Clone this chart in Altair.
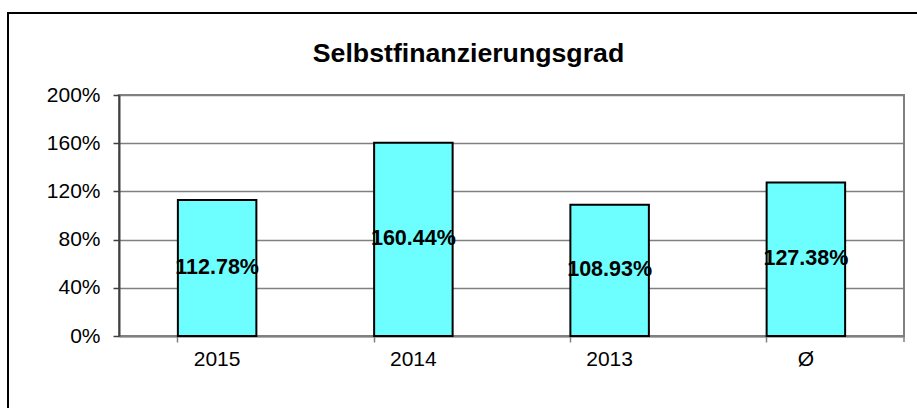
import altair as alt
import pandas as pd

title_text = "Selbstfinanzierungsgrad"
categories = ["2015", "2014", "2013", "Ø"]
values = [112.78, 160.44, 108.93, 127.38]
y_ticks = [0, 40, 80, 120, 160, 200]

df = pd.DataFrame({
    "cat": categories,
    "val": values,
    "label": [f"{v:.2f}%" for v in values],
})

FONT = "Liberation Sans"
W, H = 785, 241

x_enc = alt.X(
    "cat:N",
    sort=categories,
    title=None,
    scale=alt.Scale(paddingInner=0.6, paddingOuter=0.3),
    axis=alt.Axis(
        labelAngle=0, labelFontSize=21, labelFont=FONT, labelColor="black",
        labelPadding=6, bandPosition=0, tickSize=6, tickColor="#808080",
        tickWidth=1.5, domainColor="#808080", domainWidth=2, grid=False,
    ),
)
y_enc = alt.Y(
    "val:Q",
    title=None,
    scale=alt.Scale(domain=[0, 200], nice=False),
    axis=alt.Axis(
        values=y_ticks, labelExpr="datum.value + '%'", labelFontSize=21,
        labelFont=FONT, labelColor="black", labelPadding=13, tickSize=6,
        tickColor="#404040", tickWidth=1.5, domainColor="#404040", domainWidth=2,
        grid=True, gridColor="#808080", gridWidth=1.3,
    ),
)

bars = alt.Chart(df).mark_bar(
    fill="#6DFFFF", stroke="black", strokeWidth=2
).encode(x=x_enc, y=y_enc)

labels = alt.Chart(df).transform_calculate(
    mid="datum.val / 2"
).mark_text(
    font=FONT, fontSize=21.5, fontWeight="bold", color="black", baseline="middle"
).encode(
    x=alt.X("cat:N", sort=categories),
    y=alt.Y("mid:Q"),
    text="label:N",
)

right_tick = alt.Chart(df.head(1)).mark_rule(color="#808080", strokeWidth=1.5).encode(
    x=alt.value(W), y=alt.value(H), y2=alt.value(H + 6)
)

frame = alt.Chart(df.head(1)).mark_rect(
    fill=None, stroke="black", strokeWidth=2
).encode(
    x=alt.value(-111), x2=alt.value(W + 40), y=alt.value(-82), y2=alt.value(H + 100)
)

title = alt.Chart(pd.DataFrame({"t": [title_text]})).mark_text(
    font=FONT, fontSize=26.7, fontWeight="bold", color="black",
    baseline="alphabetic", align="center",
).encode(
    x=alt.value(W / 2 - 43), y=alt.value(-33), text="t:N"
)

chart = alt.layer(frame, bars, labels, right_tick, title).properties(
    width=W, height=H,
    autosize=alt.AutoSizeParams(type="none"),
    padding={"left": 119, "top": 95, "right": 13, "bottom": 72},
    background="white",
).configure_view(
    stroke="#808080", strokeWidth=2
)

chart.save("out.html", embed_options={"renderer": "svg", "actions": False})
